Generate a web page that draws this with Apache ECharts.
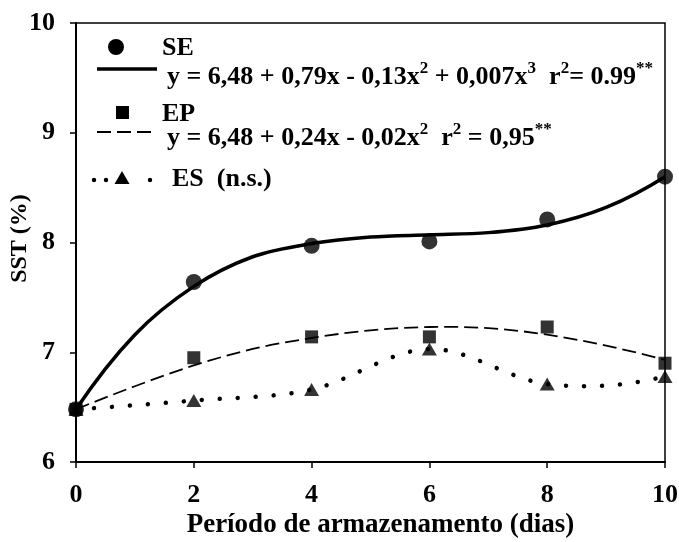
<!DOCTYPE html>
<html>
<head>
<meta charset="utf-8">
<script src="https://cdn.jsdelivr.net/npm/echarts@6/dist/echarts.min.js"></script>
<style>
  html, body { margin: 0; padding: 0; background: #fff; }
  #chart { width: 679px; height: 542px; }
</style>
</head>
<body>
<div id="chart"></div>
<script>
// Storage period (days) and measured soluble solids (SST, %)
const days = [0, 2, 4, 6, 8, 10];
const seValues = [6.48, 7.64, 7.97, 8.01, 8.21, 8.60];
const epValues = [6.48, 6.95, 7.14, 7.14, 7.23, 6.90];
const esValues = [6.48, 6.56, 6.66, 7.03, 6.71, 6.78];

// Fitted regression curves, sampled once per day
const fitDays = [0, 1, 2, 3, 4, 5, 6, 7, 8, 9, 10];
const seFit = [6.48, 7.16, 7.60, 7.87, 7.99, 8.05, 8.07, 8.09, 8.16, 8.32, 8.60];
const epFit = [6.48, 6.69, 6.88, 7.03, 7.13, 7.20, 7.23, 7.22, 7.16, 7.06, 6.93];

// Axis settings
const xTicks = { min: 0, max: 10, step: 2 };
const yTicks = { min: 6, max: 10, step: 1 };

const seriesNames = ['SE', 'EP', 'ES'];
const eq1 = ['y = 6,48 + 0,79x - 0,13x', '2', ' + 0,007x', '3', '  r', '2', '= 0.99', '**'];
const eq2 = ['y = 6,48 + 0,24x - 0,02x', '2', '  r', '2', ' = 0,95', '**'];
const esNote = '(n.s.)';

const FONT = '"Liberation Serif", "Times New Roman", serif';

const pair = (xs, ys) => xs.map((x, i) => [x, ys[i]]);

function eqText(parts) {
  // alternate normal text and superscripts; the trailing asterisks are raised too
  return parts.map((p, i) => {
    if (p === '**') return '{a|' + p + '}';
    return (i % 2 === 0 ? '{m|' : '{s|') + p + '}';
  }).join('');
}
const eqRich = {
  m: { fontFamily: FONT, fontWeight: 'bold', fontSize: 26, lineHeight: 30, fill: '#000', verticalAlign: 'bottom' },
  s: { fontFamily: FONT, fontWeight: 'bold', fontSize: 17, lineHeight: 30, fill: '#000', verticalAlign: 'top' },
  a: { fontFamily: FONT, fontWeight: 'bold', fontSize: 17, lineHeight: 30, fill: '#000', verticalAlign: 'top' }
};

// Smooth curve through points (Catmull-Rom as cubic Béziers), placed with the axis scales.
// Phantom end points are extrapolated quadratically so the ends keep their natural bend.
function curveSeries(name, xs, ys, style) {
  return {
    name: name,
    type: 'custom',
    coordinateSystem: 'cartesian2d',
    data: [[xs[0], ys[0]]],
    silent: true,
    z: 3,
    renderItem: function (params, api) {
      const pts = xs.map((x, i) => api.coord([x, ys[i]]));
      const n = pts.length;
      const extra = (a, b, c) => [3 * a[0] - 3 * b[0] + c[0], 3 * a[1] - 3 * b[1] + c[1]];
      const head = extra(pts[0], pts[1], pts[2]);
      const tail = extra(pts[n - 1], pts[n - 2], pts[n - 3]);
      const at = (i) => (i < 0 ? head : i >= n ? tail : pts[i]);
      let d = 'M' + pts[0][0] + ' ' + pts[0][1];
      for (let i = 0; i < n - 1; i++) {
        const p0 = at(i - 1), p1 = at(i), p2 = at(i + 1), p3 = at(i + 2);
        const c1x = p1[0] + (p2[0] - p0[0]) / 6, c1y = p1[1] + (p2[1] - p0[1]) / 6;
        const c2x = p2[0] - (p3[0] - p1[0]) / 6, c2y = p2[1] - (p3[1] - p1[1]) / 6;
        d += ' C' + c1x + ' ' + c1y + ' ' + c2x + ' ' + c2y + ' ' + p2[0] + ' ' + p2[1];
      }
      return {
        type: 'path',
        shape: { pathData: d },
        style: Object.assign({ fill: 'none', stroke: '#000' }, style)
      };
    }
  };
}

const chart = echarts.init(document.getElementById('chart'), null, { renderer: 'canvas' });

const option = {
  backgroundColor: '#fff',
  animation: false,
  grid: {
    left: 76, right: 14, top: 23, bottom: 80,
    outerBoundsMode: 'none',
    show: true, borderColor: '#000', borderWidth: 1.5, backgroundColor: 'transparent'
  },
  xAxis: {
    type: 'value',
    min: xTicks.min, max: xTicks.max, interval: xTicks.step,
    name: 'Período de armazenamento (dias)',
    nameLocation: 'middle',
    nameGap: 50,
    nameMoveOverlap: false,
    nameTextStyle: { fontFamily: FONT, fontWeight: 'bold', fontSize: 27, color: '#000', padding: [0, 0, 0, 20] },
    axisLine: { show: true, lineStyle: { color: '#000', width: 2 } },
    axisTick: { show: true, inside: false, length: 6, lineStyle: { color: '#000', width: 1.5 } },
    axisLabel: { fontFamily: FONT, fontWeight: 'bold', fontSize: 26, color: '#000', margin: 20 },
    splitLine: { show: false }
  },
  yAxis: {
    type: 'value',
    min: yTicks.min, max: yTicks.max, interval: yTicks.step,
    name: 'SST (%)',
    nameLocation: 'middle',
    nameRotate: 90,
    nameGap: 44,
    nameMoveOverlap: false,
    nameTextStyle: { fontFamily: FONT, fontWeight: 'bold', fontSize: 24, color: '#000', padding: [0, 0, 0, 8] },
    axisLine: { show: true, lineStyle: { color: '#000', width: 2 } },
    axisTick: { show: true, inside: false, length: 6, lineStyle: { color: '#000', width: 1.5 } },
    axisLabel: { fontFamily: FONT, fontWeight: 'bold', fontSize: 26, color: '#000', margin: 21 },
    splitLine: { show: false }
  },
  series: [
    // regression curves
    curveSeries(seriesNames[0] + ' fit', fitDays, seFit, { lineWidth: 3.5 }),
    curveSeries(seriesNames[1] + ' fit', fitDays, epFit, { lineWidth: 1.8, lineDash: [14, 6] }),
    // ES: dotted line through the measured means
    curveSeries(seriesNames[2] + ' line', days, esValues, { lineWidth: 4.5, lineDash: [0.01, 18], lineCap: 'round' }),
    // measured means
    {
      name: seriesNames[2], type: 'scatter', data: pair(days, esValues),
      symbol: 'triangle', symbolSize: [15, 13], z: 4,
      itemStyle: { color: '#000' }
    },
    {
      name: seriesNames[0], type: 'scatter', data: pair(days, seValues),
      symbol: 'circle', symbolSize: 16, z: 5,
      itemStyle: { color: '#000' }
    },
    {
      name: seriesNames[1], type: 'scatter', data: pair(days, epValues),
      symbol: 'rect', symbolSize: 13, z: 6,
      itemStyle: { color: '#000' }
    }
  ],
  graphic: [
    // key: SE
    { type: 'circle', shape: { cx: 116, cy: 47, r: 8 }, style: { fill: '#000' }, z: 10 },
    { type: 'text', x: 162, y: 48, style: { text: seriesNames[0], fontFamily: FONT, fontWeight: 'bold', fontSize: 26, fill: '#000', verticalAlign: 'middle' }, z: 10 },
    { type: 'line', shape: { x1: 97, y1: 69, x2: 157, y2: 69 }, style: { stroke: '#000', lineWidth: 3.5 }, z: 10 },
    { type: 'text', x: 167, y: 90, style: { text: eqText(eq1), rich: eqRich, verticalAlign: 'bottom' }, z: 10 },
    // key: EP
    { type: 'rect', shape: { x: 116, y: 106, width: 13, height: 13 }, style: { fill: '#000' }, z: 10 },
    { type: 'text', x: 162, y: 114, style: { text: seriesNames[1], fontFamily: FONT, fontWeight: 'bold', fontSize: 26, fill: '#000', verticalAlign: 'middle' }, z: 10 },
    { type: 'line', shape: { x1: 97, y1: 132, x2: 155, y2: 132 }, style: { stroke: '#000', lineWidth: 1.8, lineDash: [14, 6] }, z: 10 },
    { type: 'text', x: 167, y: 151, style: { text: eqText(eq2), rich: eqRich, verticalAlign: 'bottom' }, z: 10 },
    // key: ES
    { type: 'circle', shape: { cx: 94, cy: 180, r: 2.2 }, style: { fill: '#000' }, z: 10 },
    { type: 'circle', shape: { cx: 106, cy: 180, r: 2.2 }, style: { fill: '#000' }, z: 10 },
    { type: 'polygon', shape: { points: [[122, 171], [129.5, 184], [114.5, 184]] }, style: { fill: '#000' }, z: 10 },
    { type: 'circle', shape: { cx: 150, cy: 180, r: 2.2 }, style: { fill: '#000' }, z: 10 },
    { type: 'text', x: 172, y: 179, style: { text: seriesNames[2] + '  ' + esNote, fontFamily: FONT, fontWeight: 'bold', fontSize: 26, fill: '#000', verticalAlign: 'middle' }, z: 10 }
  ]
};

chart.setOption(option);
</script>
</body>
</html>
